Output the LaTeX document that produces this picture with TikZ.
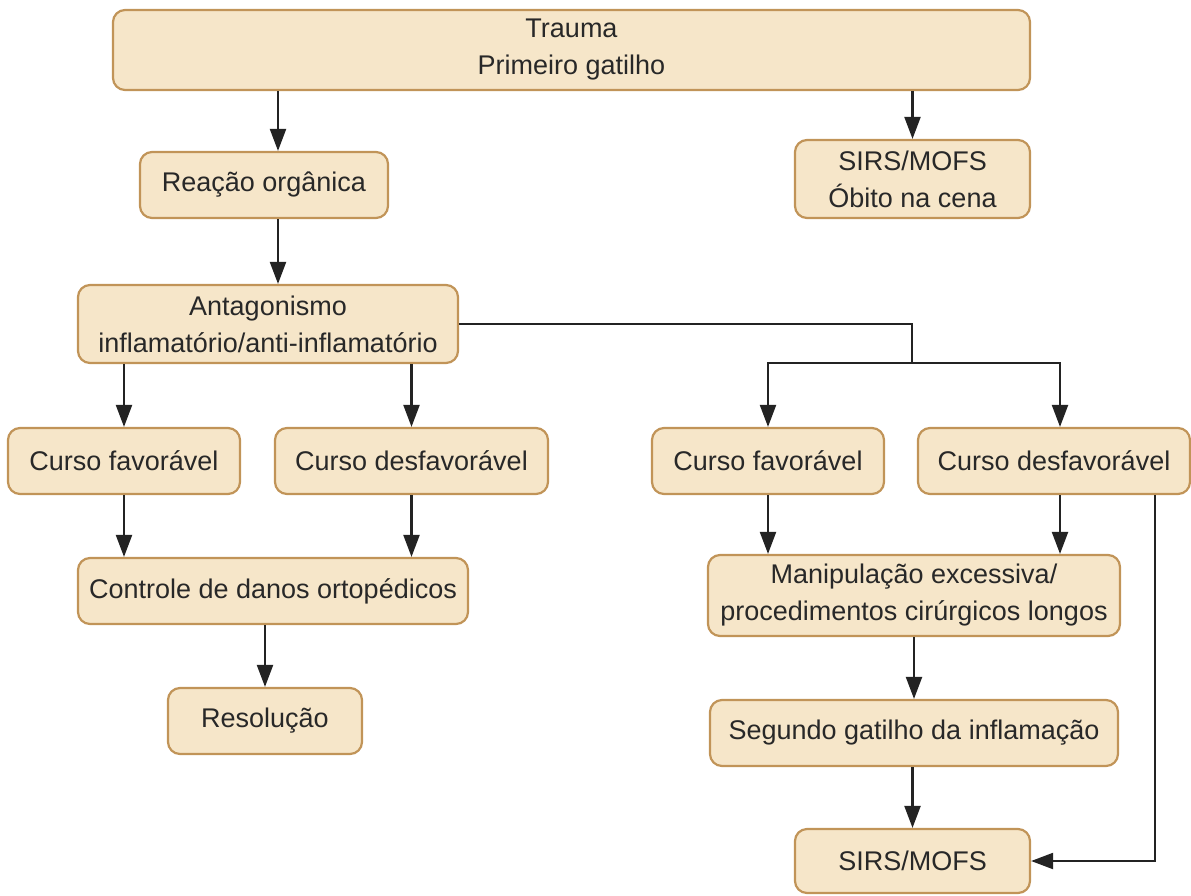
\documentclass[tikz,border=0pt]{standalone}
\usepackage{fontspec}
\setmainfont{Liberation Sans}
\usetikzlibrary{arrows.meta,calc}
\definecolor{CaixaClr}{RGB}{246,230,201}
\definecolor{BordaClr}{RGB}{193,148,88}
\definecolor{TextoClr}{RGB}{40,40,40}
\definecolor{SetaClr}{RGB}{35,35,35}

\begin{document}
\begin{tikzpicture}[x=1pt,y=-1pt,
  caixa/.style 2 args={draw=BordaClr,line width=2.2pt,fill=CaixaClr,rounded corners=12pt,
    text=TextoClr,align=center,inner sep=0pt,minimum width=#1,minimum height=#2,
    font=\fontsize{27}{37}\selectfont},
  seta/.style={draw=SetaClr,line width=2.2pt,-{Triangle[length=22pt,width=16pt]}},
  linha/.style={draw=SetaClr,line width=2.2pt}]
\useasboundingbox (0,0) rectangle (1191,895);

\node[caixa={917pt}{80pt}] (trauma) at (571.5,50) {Trauma\\Primeiro gatilho};
\node[caixa={248pt}{66pt}] (reacao) at (264,185) {Reação orgânica};
\node[caixa={235pt}{78pt}] (sirsA) at (912.5,179) {SIRS/MOFS\\Óbito na cena};
\node[caixa={380pt}{78pt}] (antag) at (268,324) {Antagonismo\\inflamatório/anti-inflamatório};
\node[caixa={232pt}{66pt}] (favA) at (124,461) {Curso favorável};
\node[caixa={273pt}{66pt}] (desfA) at (411.5,461) {Curso desfavorável};
\node[caixa={232pt}{66pt}] (favB) at (768,461) {Curso favorável};
\node[caixa={272pt}{66pt}] (desfB) at (1054,461) {Curso desfavorável};
\node[caixa={390pt}{66pt}] (controle) at (273,591) {Controle de danos ortopédicos};
\node[caixa={194pt}{66pt}] (resol) at (265,721) {Resolução};
\node[caixa={412pt}{81pt}] (manip) at (914,595.5) {Manipulação excessiva/\\procedimentos cirúrgicos longos};
\node[caixa={408pt}{66pt}] (segundo) at (914,733) {Segundo gatilho da inflamação};
\node[caixa={235pt}{64pt}] (sirsB) at (912.5,861) {SIRS/MOFS};

\coordinate (ramo) at (912,363);

\draw[seta] ([xshift=14pt]reacao.north |- trauma.south) -- ([xshift=14pt]reacao.north);
\draw[seta] (trauma.south -| sirsA.north) -- (sirsA.north);
\draw[seta] ([xshift=14pt]reacao.south) -- ([xshift=14pt]reacao.south |- antag.north);
\draw[seta] (antag.south -| favA.north) -- (favA.north);
\draw[seta] (antag.south -| desfA.north) -- (desfA.north);
\draw[linha] (antag.east) -| (ramo);
\draw[seta] (ramo) -| (favB.north);
\draw[seta] (ramo) -| ([xshift=6pt]desfB.north);
\draw[seta] (favA.south) -- (favA.south |- controle.north);
\draw[seta] (desfA.south) -- (desfA.south |- controle.north);
\draw[seta] (resol.north |- controle.south) -- (resol.north);
\draw[seta] (favB.south) -- (favB.south |- manip.north);
\draw[seta] ([xshift=6pt]desfB.south) -- ([xshift=6pt]desfB.south |- manip.north);
\draw[seta] (manip.south) -- (segundo.north);
\draw[seta] (segundo.south -| sirsB.north) -- (sirsB.north);
\draw[seta] ([xshift=101pt]desfB.south) |- (sirsB.east);
\end{tikzpicture}
\end{document}
